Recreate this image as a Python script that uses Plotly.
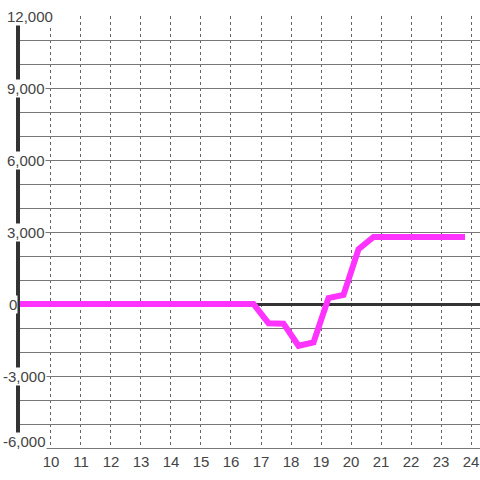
import plotly.graph_objects as go

# data: hour of day vs value
hours = [8.75, 9.25, 9.75, 10.25, 10.75, 11.25, 11.75, 12.25, 12.75, 13.25, 13.75,
         14.25, 14.75, 15.25, 15.75, 16.25, 16.75, 17.25, 17.75, 18.25, 18.75,
         19.25, 19.75, 20.25, 20.75, 21.25, 21.75, 22.25, 22.75, 23.25, 23.8]
values = [0, 0, 0, 0, 0, 0, 0, 0, 0, 0, 0,
          0, 0, 0, 0, 0, 0, -800, -820, -1740, -1600,
          250, 380, 2280, 2790, 2790, 2790, 2790, 2790, 2790, 2790]

x_ticks = list(range(10, 25))
y_label_vals = [12000, 9000, 6000, 3000, 0, -3000, -6000]
y_label_text = ["12,000", "9,000", "6,000", "3,000", "0", "-3,000", "-6,000"]

PLOT_W = 460
fig = go.Figure()
fig.add_trace(go.Scatter(x=hours, y=values, mode="lines",
                         line=dict(color="#ff33ff", width=6), hoverinfo="skip"))

ymin = min(y_label_vals)
for v, t in zip(y_label_vals, y_label_text):
    left_px = 2 if v < 0 else (8 if v == 0 else 6)
    fig.add_annotation(x=(left_px - 20) / PLOT_W, xref="paper", y=v, yref="y", text=t,
                       xanchor="left", yanchor="middle", showarrow=False,
                       yshift=6.5 if v == ymin else 0,
                       bgcolor="white", borderpad=0,
                       font=dict(family="Liberation Sans, Arial", size=15, color="#444"))

fig.update_layout(
    width=480, height=480,
    margin=dict(l=20, r=0, t=16, b=32),
    paper_bgcolor="white", plot_bgcolor="white",
    showlegend=False,
    font=dict(family="Liberation Sans, Arial", size=15, color="#444"),
    xaxis=dict(range=[8.967, 24.3], tickvals=x_ticks, ticktext=[str(v) for v in x_ticks],
               showgrid=True, gridcolor="#666", gridwidth=1, griddash="3px,3px",
               zeroline=False, showline=True, linecolor="#777", linewidth=1,
               ticks="", fixedrange=True, automargin=False),
    yaxis=dict(range=[-6000, 12000], dtick=1000, tick0=0, showticklabels=False,
               showgrid=True, gridcolor="#777", gridwidth=1,
               zeroline=True, zerolinecolor="#333", zerolinewidth=3,
               showline=True, linecolor="#333", linewidth=4, ticks="", fixedrange=True,
               automargin=False),
)

fig.write_html("out.html", config={"displayModeBar": False},
               post_script="document.body.style.margin='0';")
